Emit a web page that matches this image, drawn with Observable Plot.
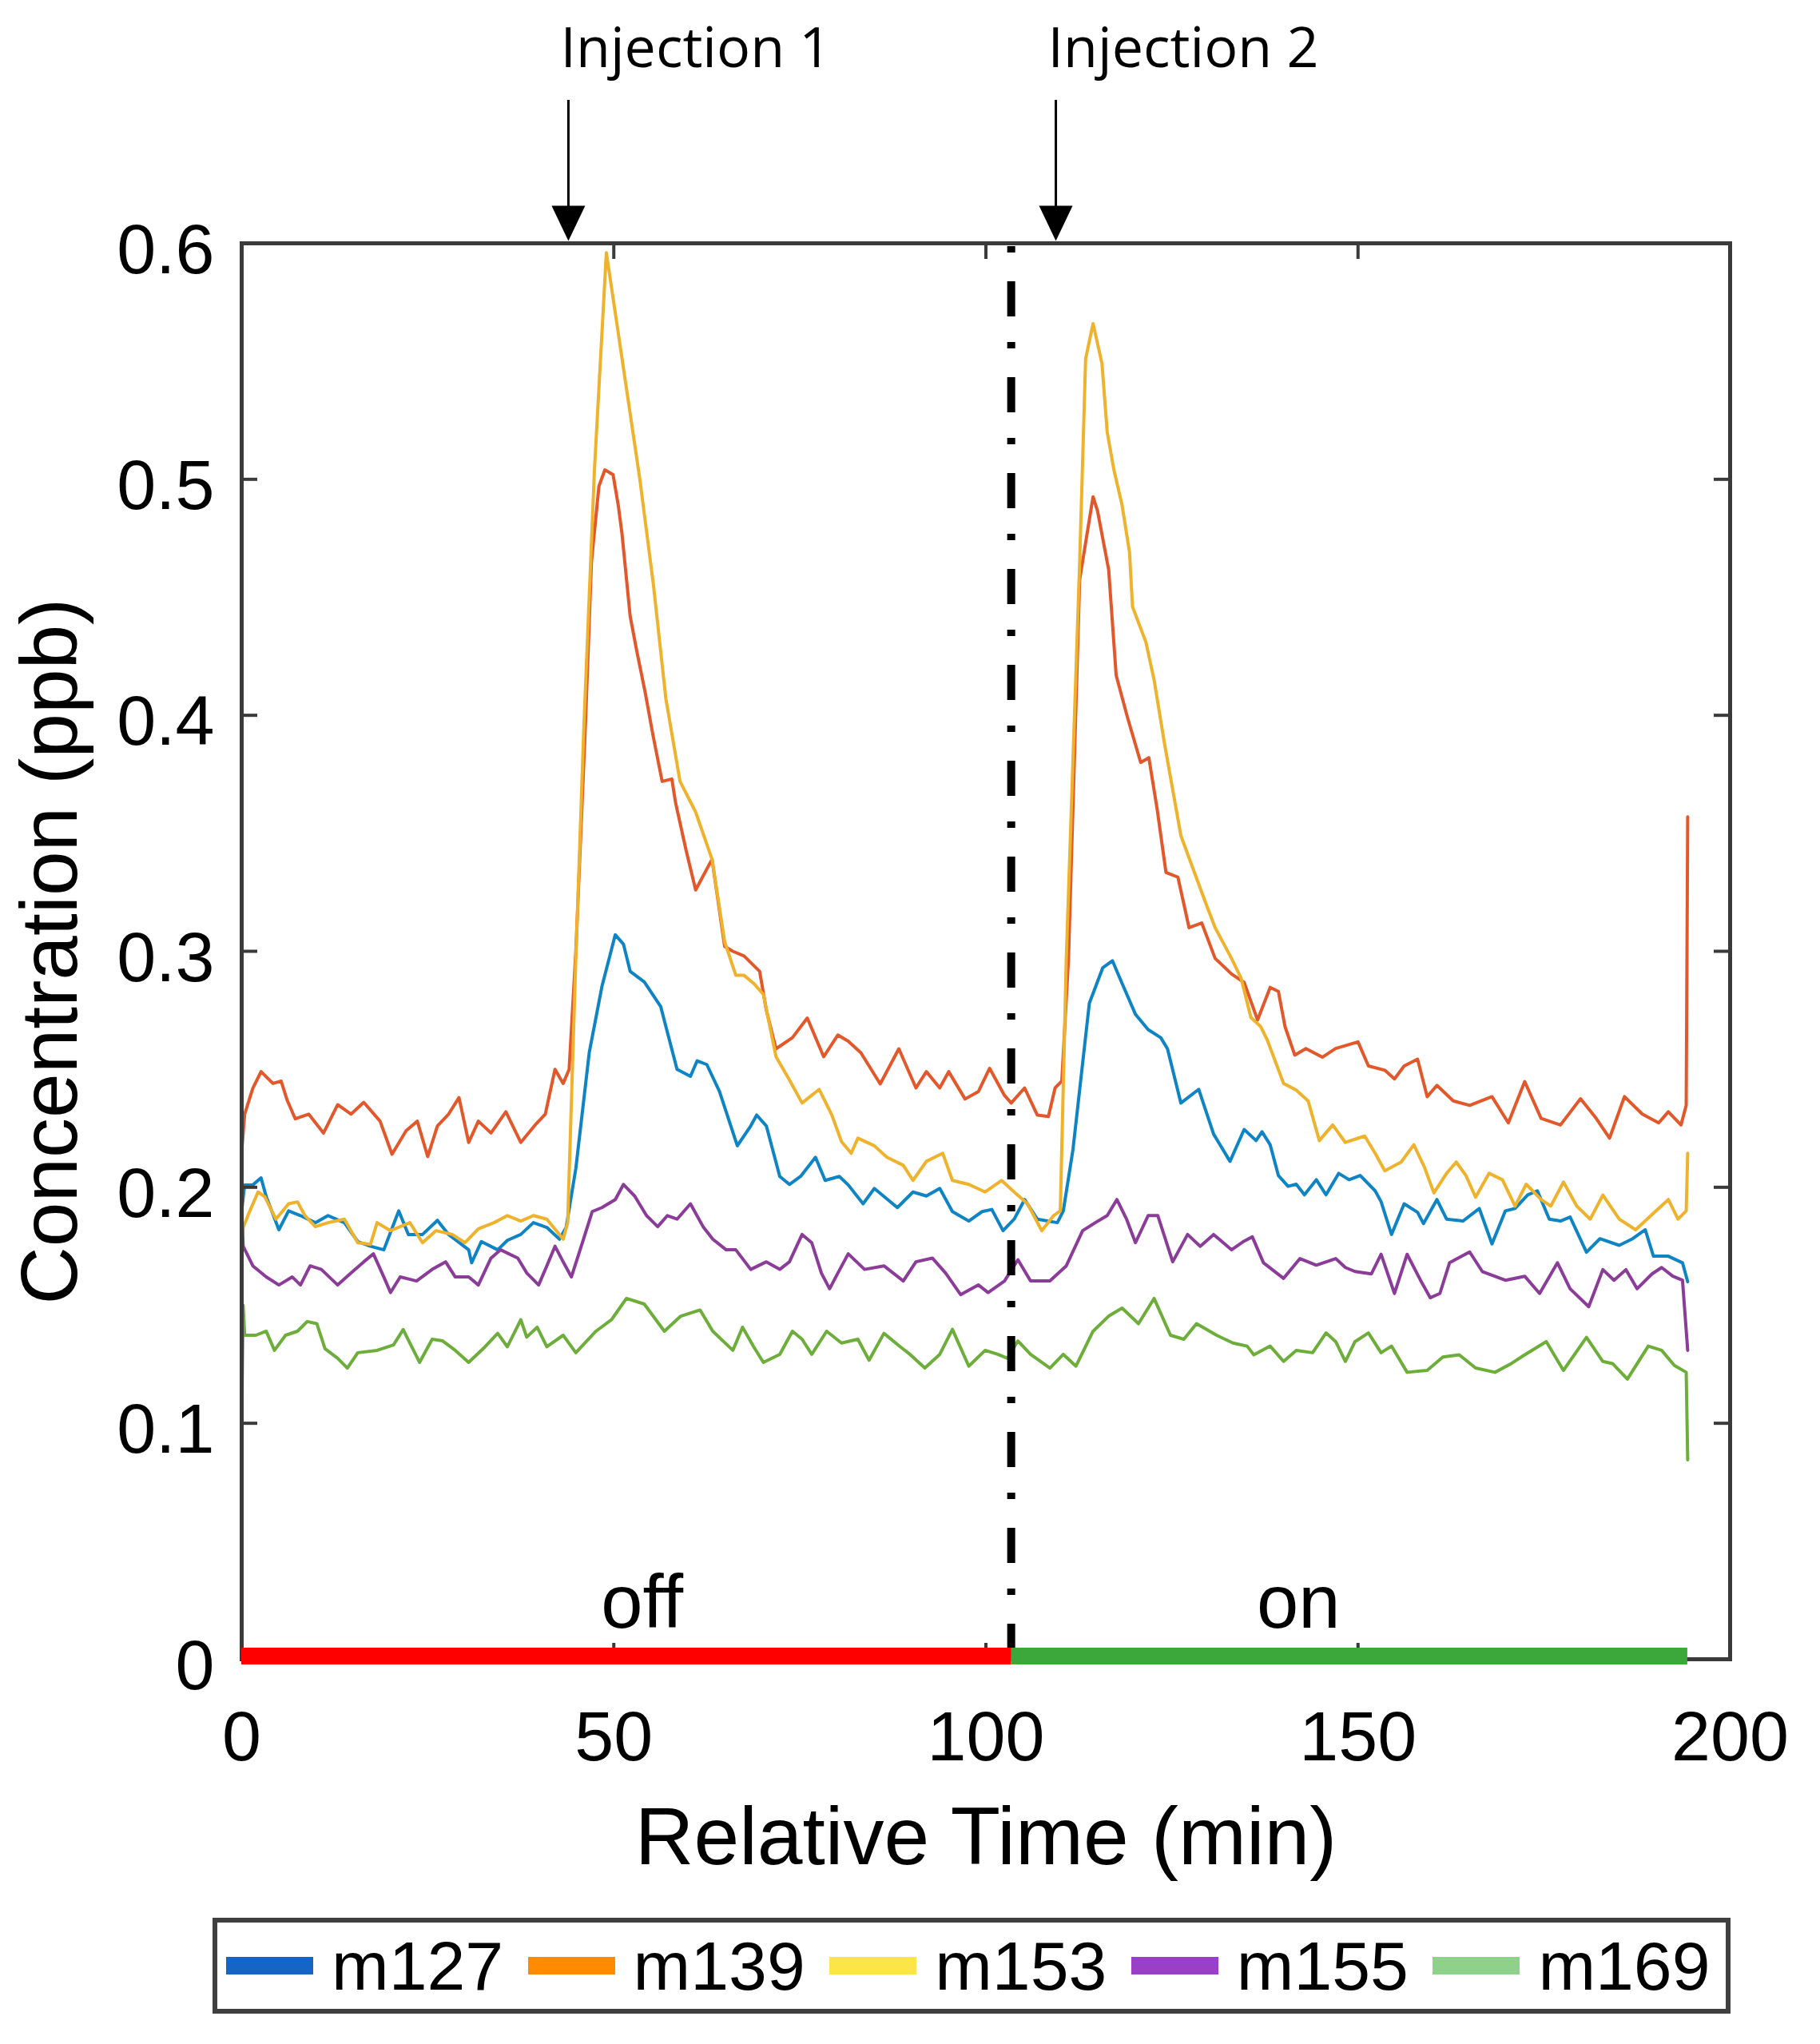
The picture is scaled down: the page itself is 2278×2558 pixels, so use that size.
<!DOCTYPE html>
<html>
<head>
<meta charset="utf-8">
<script src="https://cdn.jsdelivr.net/npm/d3@7"></script>
<script src="https://cdn.jsdelivr.net/npm/@observablehq/plot@0.6"></script>
<style>
  html, body { margin: 0; padding: 0; background: #fff; }
  #wrap { position: relative; width: 2278px; height: 2558px; }
  #legend {
    position: absolute; left: 266px; top: 2400px; width: 1900px; height: 120px;
    box-sizing: border-box; border: 6px solid #404040; background: #fff;
    display: flex; align-items: center;
    font-family: "Liberation Sans", Arial, sans-serif; font-size: 86px; color: #000;
  }
  .item { display: flex; align-items: center; width: 379px; }
  .sw { width: 109px; height: 22px; margin-left: 11px; margin-right: 23px; }
</style>
</head>
<body>
<div id="wrap"><div id="chart"></div><div id="legend"></div></div>
<script>
// ---------- data ----------
const seriesNames = ["m127", "m139", "m153", "m155", "m169"];
const lineColors = ["#0f84c4", "#e2582b", "#eeb22c", "#8a3c98", "#6dad3a"];
const legendColors = ["#1565c8", "#ff8c00", "#fde447", "#9a40c8", "#8fd08a"];

const xTicks = [0, 50, 100, 150, 200];
const yTicks = [0, 0.1, 0.2, 0.3, 0.4, 0.5, 0.6];

const injectionTimes = [43.9, 109.4];
const injectionLabels = ["Injection 1", "Injection 2"];

const dividerTime = [103.4];

const phaseLabels = ["off", "on"];
const phaseStart = [0, 103.4];
const phaseEnd = [103.4, 194.3];
const phaseLabelTime = [53.8, 142];
const phaseColors = ["#ff0000", "#3ca83c"];

const m127 = [[0,0.19],[0.4,0.201],[1.5,0.201],[2.6,0.204],[3.3,0.196],[5.0,0.182],[6.3,0.190],[7.9,0.188],[9.9,0.185],[11.6,0.188],[13.8,0.185],[15.6,0.177],[17.3,0.175],[19.1,0.1735],[21.1,0.190],[22.4,0.180],[24.3,0.180],[26.3,0.186],[27.8,0.180],[30.5,0.1735],[30.9,0.168],[32.2,0.177],[34.4,0.1735],[35.7,0.1775],[37.5,0.180],[39.2,0.185],[41.0,0.183],[42.7,0.178],[43.6,0.183],[44.9,0.208],[46.7,0.257],[48.4,0.285],[50.2,0.307],[51.3,0.303],[52.2,0.2915],[54.1,0.287],[56.3,0.2766],[58.5,0.250],[60.3,0.247],[61.2,0.2536],[62.5,0.252],[64.2,0.2406],[66.6,0.2176],[68.4,0.226],[69.2,0.2306],[70.5,0.226],[72.3,0.2046],[73.6,0.2012],[75.1,0.2046],[77.1,0.2127],[78.4,0.2029],[80.3,0.2046],[81.5,0.201],[83.5,0.193],[85.0,0.1995],[88.1,0.1914],[90.2,0.198],[92.0,0.1963],[93.8,0.1995],[95.5,0.1897],[97.7,0.1857],[99.5,0.1897],[100.8,0.1906],[102.3,0.1816],[103.8,0.1865],[105.2,0.1948],[106.9,0.1865],[109.6,0.185],[110.4,0.19],[111.7,0.216],[113.9,0.278],[115.7,0.293],[117.0,0.296],[118.3,0.2864],[120.1,0.2733],[121.8,0.2668],[123.5,0.2634],[124.4,0.2587],[126.2,0.2357],[128.6,0.2415],[130.6,0.2225],[132.8,0.211],[134.7,0.2245],[136.3,0.2198],[137.1,0.2235],[138.2,0.218],[139.3,0.205],[140.6,0.2004],[141.7,0.2013],[142.8,0.1968],[144.4,0.2032],[145.7,0.1968],[147.4,0.2059],[148.8,0.2032],[150.3,0.205],[152.3,0.1985],[153.1,0.1939],[154.5,0.18],[156.2,0.193],[158.0,0.1894],[158.8,0.1846],[160.6,0.1948],[161.9,0.1865],[164.1,0.1857],[166.3,0.191],[168.0,0.176],[169.8,0.190],[171.1,0.191],[172.8,0.1968],[174.1,0.1985],[175.7,0.1865],[177.2,0.1857],[178.5,0.1874],[180.7,0.1725],[182.5,0.1782],[185.1,0.1754],[186.9,0.1782],[188.6,0.182],[189.7,0.1708],[191.7,0.1708],[193.6,0.168],[194.3,0.16]];

const m139 = [[0,0.215],[0.4,0.231],[1.5,0.242],[2.6,0.249],[4.2,0.244],[5.3,0.245],[6.1,0.237],[7.2,0.229],[9.0,0.231],[11.0,0.223],[12.9,0.235],[14.7,0.231],[16.4,0.236],[18.6,0.228],[20.2,0.214],[22.1,0.224],[23.6,0.228],[25.0,0.213],[26.3,0.226],[27.8,0.231],[29.2,0.238],[30.5,0.219],[31.8,0.228],[33.5,0.223],[35.5,0.232],[37.5,0.219],[39.6,0.227],[40.8,0.231],[42.1,0.250],[43.2,0.244],[44.0,0.250],[44.9,0.300],[46.2,0.397],[47.0,0.465],[48.0,0.497],[48.8,0.504],[49.9,0.502],[50.6,0.489],[51.1,0.477],[52.2,0.442],[53.1,0.427],[54.2,0.410],[55.3,0.391],[56.5,0.372],[57.8,0.373],[58.3,0.363],[59.7,0.343],[61.0,0.326],[63.2,0.339],[64.9,0.302],[66.0,0.300],[67.5,0.298],[69.6,0.2915],[70.5,0.275],[71.8,0.2587],[74.0,0.2634],[76.0,0.2717],[78.2,0.2553],[80.1,0.2645],[81.5,0.2619],[83.2,0.257],[85.8,0.2438],[88.3,0.2587],[90.6,0.2421],[92.0,0.249],[93.8,0.2421],[95.0,0.249],[97.2,0.2374],[99.0,0.2406],[100.5,0.2504],[102.5,0.2389],[103.4,0.2357],[105.2,0.2421],[106.9,0.2306],[108.4,0.230],[109.3,0.2421],[110.2,0.245],[111.1,0.297],[112.6,0.4575],[114.4,0.4926],[115.0,0.4866],[116.5,0.4616],[117.5,0.417],[119.0,0.3994],[120.8,0.380],[121.9,0.382],[123.0,0.3605],[124.2,0.3334],[125.8,0.3314],[127.3,0.310],[129.0,0.312],[130.8,0.297],[133.0,0.2904],[134.7,0.2868],[136.5,0.2709],[138.2,0.2847],[139.3,0.283],[140.2,0.268],[141.5,0.256],[143.0,0.2588],[145.2,0.2551],[147.0,0.2588],[150.0,0.2616],[151.4,0.2514],[153.6,0.2496],[154.9,0.2459],[156.2,0.2514],[158.0,0.2543],[159.3,0.2384],[160.6,0.2432],[162.8,0.2366],[165.0,0.2347],[168.0,0.2384],[170.2,0.2273],[172.4,0.2448],[174.6,0.2292],[177.2,0.2264],[179.9,0.2375],[182.0,0.2292],[183.8,0.2208],[185.8,0.2384],[188.2,0.231],[190.4,0.2273],[191.7,0.232],[193.4,0.2264],[194.1,0.2347],[194.3,0.357]];

const m153 = [[0,0.175],[0.2,0.183],[1.1,0.19],[2.2,0.198],[3.1,0.196],[4.6,0.1865],[6.3,0.193],[7.5,0.1938],[8.5,0.188],[9.9,0.1833],[11.6,0.185],[13.8,0.1865],[15.6,0.1765],[17.3,0.1758],[18.2,0.185],[20.0,0.1816],[22.6,0.185],[24.3,0.1765],[26.1,0.1816],[28.3,0.18],[30.0,0.1765],[31.8,0.1824],[33.9,0.185],[35.7,0.188],[37.5,0.1857],[39.2,0.188],[41.0,0.1865],[43.2,0.178],[43.8,0.185],[44.9,0.297],[46.0,0.397],[47.4,0.504],[49.0,0.596],[50.6,0.562],[52.1,0.530],[53.5,0.500],[55.3,0.456],[57.0,0.407],[58.9,0.372],[61.0,0.359],[63.2,0.339],[64.9,0.304],[66.4,0.2898],[67.5,0.2898],[68.8,0.2864],[70.1,0.2817],[71.8,0.2553],[73.6,0.2455],[75.3,0.2357],[77.6,0.2415],[79.3,0.2306],[80.6,0.2193],[81.9,0.2144],[82.8,0.2208],[85.0,0.2176],[86.7,0.2127],[88.9,0.2093],[90.2,0.2029],[92.0,0.211],[94.2,0.2144],[95.5,0.2029],[97.7,0.2012],[99.9,0.198],[102.1,0.2029],[103.8,0.198],[105.6,0.193],[107.5,0.1816],[109.1,0.188],[110.0,0.19],[110.8,0.297],[112.6,0.465],[113.4,0.551],[114.4,0.566],[115.6,0.549],[116.3,0.520],[117.2,0.504],[118.3,0.489],[119.3,0.469],[119.7,0.446],[121.5,0.431],[122.6,0.415],[124.0,0.388],[126.2,0.349],[127.6,0.337],[129.4,0.3216],[130.8,0.310],[133.0,0.297],[134.3,0.2885],[135.6,0.272],[136.9,0.2682],[137.8,0.2625],[140.0,0.244],[141.7,0.2412],[143.3,0.2366],[144.8,0.2198],[146.6,0.2264],[148.3,0.219],[150.9,0.2217],[152.3,0.2144],[153.6,0.207],[155.8,0.2107],[157.5,0.218],[158.9,0.2087],[160.2,0.1976],[161.9,0.2059],[163.2,0.2107],[164.5,0.205],[165.8,0.1958],[167.6,0.2059],[169.4,0.2032],[171.1,0.192],[172.6,0.2013],[174.6,0.1948],[175.9,0.192],[177.6,0.2022],[179.4,0.192],[181.2,0.1865],[182.9,0.1967],[185.1,0.1865],[187.3,0.182],[189.5,0.1884],[191.7,0.1948],[193.0,0.1865],[194.1,0.190],[194.3,0.2144]];

const m155 = [[0,0.19],[0.2,0.175],[1.5,0.1667],[3.3,0.162],[5.0,0.1586],[6.8,0.162],[7.9,0.1586],[9.2,0.1667],[10.7,0.1652],[12.9,0.1586],[14.7,0.1637],[16.4,0.1684],[17.7,0.1718],[19.1,0.162],[20.0,0.1554],[21.3,0.162],[23.5,0.1603],[25.6,0.1652],[27.4,0.1684],[28.7,0.162],[30.5,0.162],[31.8,0.1586],[33.5,0.170],[34.8,0.1735],[37.1,0.170],[38.3,0.1637],[39.9,0.1586],[41.0,0.1667],[42.1,0.175],[43.2,0.1684],[44.3,0.162],[45.8,0.1767],[47.1,0.1897],[48.4,0.1914],[50.2,0.1948],[51.3,0.2012],[52.8,0.1963],[54.4,0.188],[55.9,0.1833],[57.2,0.188],[58.5,0.1865],[60.3,0.193],[62.0,0.1833],[63.3,0.178],[65.1,0.1735],[66.4,0.1735],[68.4,0.1652],[70.5,0.1684],[72.3,0.1652],[73.6,0.1684],[75.3,0.18],[76.6,0.1765],[77.9,0.1636],[79.0,0.157],[80.1,0.1636],[81.5,0.1718],[83.7,0.1652],[86.3,0.1667],[88.9,0.1603],[90.6,0.1684],[92.8,0.170],[94.6,0.1636],[96.6,0.1545],[99.0,0.1586],[100.3,0.1554],[102.5,0.1603],[104.3,0.1693],[106.0,0.1603],[108.6,0.1603],[110.8,0.1667],[113.0,0.1816],[114.7,0.185],[116.3,0.188],[117.6,0.1948],[118.9,0.1865],[120.1,0.1765],[121.8,0.188],[123.1,0.188],[125.1,0.1684],[127.1,0.18],[128.8,0.175],[130.6,0.18],[133.0,0.1735],[134.7,0.1772],[135.8,0.179],[137.3,0.168],[140.0,0.1614],[142.2,0.1698],[144.4,0.167],[147.0,0.1698],[148.3,0.166],[149.6,0.1643],[151.8,0.1633],[153.1,0.1716],[154.9,0.155],[156.6,0.1716],[158.4,0.1606],[159.7,0.1532],[161.0,0.155],[162.3,0.168],[165.0,0.1726],[166.7,0.1643],[169.8,0.1606],[172.4,0.1623],[174.4,0.155],[176.8,0.168],[178.5,0.157],[181.0,0.1494],[182.9,0.1651],[184.4,0.1606],[186.0,0.1651],[187.5,0.157],[189.5,0.1633],[190.8,0.166],[192.3,0.1623],[193.6,0.1606],[194.3,0.1309]];

const m169 = [[0,0.10],[0.2,0.15],[0.4,0.1373],[1.9,0.1373],[3.3,0.139],[4.4,0.1309],[5.9,0.1373],[7.5,0.139],[8.8,0.1431],[10.1,0.1422],[11.2,0.1316],[12.9,0.1275],[14.2,0.1234],[15.6,0.1299],[18.2,0.1309],[20.4,0.1332],[21.7,0.1397],[23.9,0.1258],[25.6,0.1356],[27.0,0.1349],[28.7,0.1309],[30.5,0.1258],[32.7,0.1324],[34.4,0.1381],[35.7,0.1324],[37.5,0.1439],[38.3,0.1365],[39.7,0.1407],[41.0,0.1324],[43.2,0.1373],[44.9,0.1299],[47.6,0.139],[49.7,0.1439],[51.7,0.1529],[54.1,0.1505],[56.8,0.139],[59.0,0.1454],[61.6,0.148],[63.3,0.139],[66.0,0.1309],[67.3,0.1407],[68.8,0.1324],[70.1,0.1258],[72.3,0.1292],[74.0,0.139],[75.3,0.1356],[76.6,0.1292],[78.6,0.139],[80.6,0.134],[82.8,0.1356],[84.3,0.1267],[86.3,0.1381],[88.5,0.1324],[89.8,0.1292],[91.8,0.1234],[93.8,0.1292],[95.5,0.1398],[97.7,0.1242],[99.9,0.1309],[101.6,0.1292],[102.9,0.1275],[104.3,0.1349],[106.0,0.1292],[108.6,0.1234],[110.4,0.1292],[112.1,0.1242],[114.4,0.139],[116.5,0.1454],[118.3,0.1488],[120.5,0.1422],[122.6,0.1529],[124.8,0.1373],[126.6,0.1356],[128.3,0.1422],[131.0,0.1373],[133.2,0.134],[135.1,0.1327],[136.0,0.129],[138.2,0.1327],[140.0,0.1262],[141.7,0.1309],[143.9,0.1299],[145.7,0.1383],[147.0,0.1346],[148.3,0.1262],[149.6,0.1346],[151.4,0.1383],[153.1,0.1299],[154.5,0.1327],[156.6,0.1216],[159.3,0.1224],[161.4,0.1281],[163.6,0.129],[165.8,0.1234],[168.4,0.1216],[170.6,0.1253],[172.4,0.129],[175.3,0.1346],[177.6,0.1224],[180.7,0.1364],[182.9,0.1262],[184.2,0.1253],[186.2,0.1187],[189.0,0.1327],[190.8,0.1309],[192.5,0.1245],[194.1,0.1216],[194.3,0.0845]];

// ---------- build tables ----------
const seriesData = [m127, m139, m153, m155, m169];
const table = seriesData.flatMap((s, i) =>
  s.map(([t, v]) => ({t, v, name: seriesNames[i], color: lineColors[i]})));
const phases = phaseLabels.map((label, i) => ({
  label, start: phaseStart[i], end: phaseEnd[i], labelT: phaseLabelTime[i], color: phaseColors[i]
}));

const W = 2278, H = 2380;
const mL = 302, mR = 113, mT = 304, mB = 304;
const innerW = W - mL - mR, innerH = H - mT - mB;
const axisColor = "#3a3a3a";
const arrowHead = {draw(ctx) { ctx.moveTo(0, 0); ctx.lineTo(-21, -44); ctx.lineTo(21, -44); ctx.closePath(); }};

const chart = Plot.plot({
  width: W, height: H,
  marginLeft: mL, marginRight: mR, marginTop: mT, marginBottom: mB,
  style: {fontFamily: "'Liberation Sans', Arial, sans-serif", background: "#fff", color: "#000", overflow: "visible"},
  x: {domain: [0, 200]},
  y: {domain: [0, 0.6]},
  color: {type: "identity"},
  marks: [
    Plot.axisX({ticks: xTicks, tickSize: 0, tickPadding: 64, fontSize: 88, label: null, tickFormat: d => String(d)}),
    Plot.axisY({ticks: yTicks, tickSize: 0, tickPadding: 34, fontSize: 88, label: null, dy: 9,
      tickFormat: d => d === 0 ? "0" : d3.format(".1f")(d)}),
    Plot.text(["Relative Time (min)"], {frameAnchor: "bottom", dy: 224, fontSize: 102, lineAnchor: "middle", textAnchor: "middle"}),
    Plot.text(["Concentration (ppb)"], {frameAnchor: "left", dx: -239, rotate: -90, fontSize: 100, lineAnchor: "middle", textAnchor: "middle"}),
    Plot.line(table, {x: "t", y: "v", z: "name", stroke: "color", strokeWidth: 4, strokeLinejoin: "round"}),
    Plot.ruleX(dividerTime, {x: d => d, y1: 0, y2: 0.6, stroke: "#000", strokeWidth: 10, strokeDasharray: "44,36,8,32"}),
    Plot.frame({stroke: axisColor, strokeWidth: 5}),
    Plot.tickX(xTicks, {x: d => d, insetTop: innerH - 20, stroke: axisColor, strokeWidth: 4}),
    Plot.tickX(xTicks, {x: d => d, insetBottom: innerH - 20, stroke: axisColor, strokeWidth: 4}),
    Plot.tickY(yTicks, {y: d => d, insetRight: innerW - 20, stroke: axisColor, strokeWidth: 4}),
    Plot.tickY(yTicks, {y: d => d, insetLeft: innerW - 20, stroke: axisColor, strokeWidth: 4}),
    Plot.ruleY(phases, {y: () => 0, x1: "start", x2: "end", stroke: "color", strokeWidth: 21, dy: -4}),
    Plot.text(phases, {x: "labelT", frameAnchor: "bottom", text: "label", dy: -40, lineAnchor: "bottom", textAnchor: "middle", fontSize: 94}),
    Plot.ruleX(injectionTimes, {x: d => d, insetTop: -179, insetBottom: innerH + 34, stroke: "#000", strokeWidth: 3}),
    Plot.dot(injectionTimes, {x: d => d, frameAnchor: "top", symbol: arrowHead, fill: "#000", stroke: "none", dy: -3}),
    Plot.text(injectionTimes, {x: d => d, text: (d, i) => injectionLabels[i], frameAnchor: "top", dy: -221, dx: -10,
      textAnchor: "start", lineAnchor: "bottom", fontSize: 70, fontFamily: "'Open Sans', sans-serif"})
  ]
});
document.getElementById("chart").appendChild(chart);

// ---------- legend ----------
const legend = document.getElementById("legend");
seriesNames.forEach((n, i) => {
  const item = document.createElement("div");
  item.className = "item";
  const sw = document.createElement("span");
  sw.className = "sw";
  sw.style.background = legendColors[i];
  const lab = document.createElement("span");
  lab.textContent = n;
  item.appendChild(sw);
  item.appendChild(lab);
  legend.appendChild(item);
});
</script>
</body>
</html>
